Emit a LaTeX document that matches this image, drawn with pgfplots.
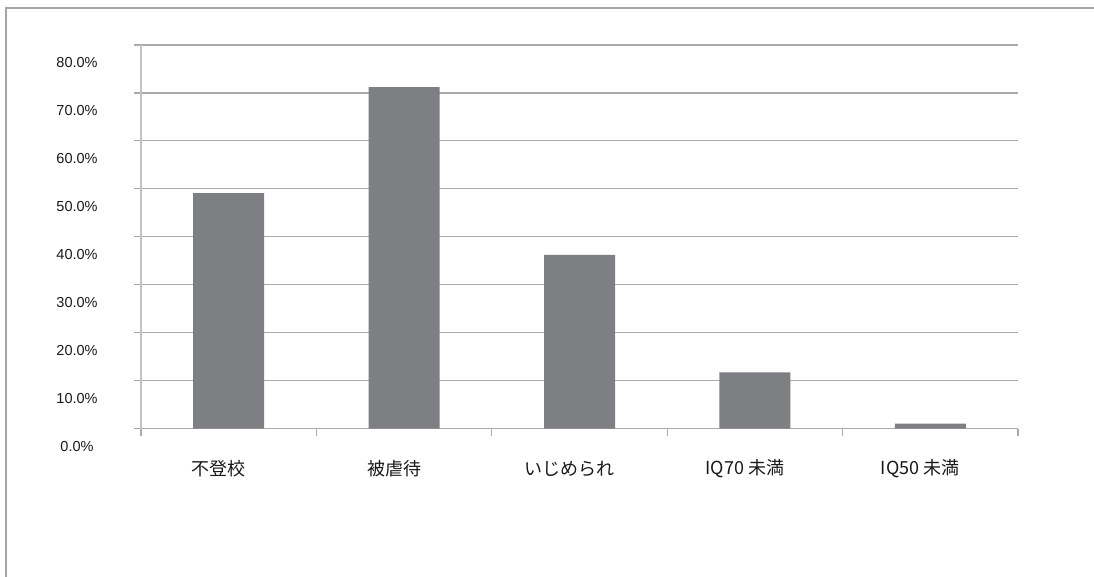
\documentclass[border=0pt]{standalone}
\usepackage{pgfplots}
\pgfplotsset{compat=1.18}
\usepackage{fontspec}
\setmainfont{Liberation Sans}
\newfontfamily\jp{Noto Sans CJK JP}
\definecolor{barc}{RGB}{126,127,131}
\definecolor{gridc}{RGB}{170,170,170}
\definecolor{framec}{RGB}{165,165,165}
\definecolor{txtc}{RGB}{25,25,25}
\begin{document}
\begin{tikzpicture}[x=1pt,y=1pt]
\useasboundingbox (0,0) rectangle (1094,576);
\draw[line width=1.5pt, framec] (6,-20) -- (6,568) -- (1110,568);
\begin{axis}[
  at={(141pt,147.5pt)}, anchor=south west,
  scale only axis, width=877pt, height=383.5pt,
  xmin=-0.5, xmax=4.5, ymin=0, ymax=80,
  axis x line*=bottom, axis y line*=left,
  axis line style={-},
  x axis line style={draw=gridc, line width=1.2pt},
  y axis line style={draw=gridc!70, line width=1.2pt},
  ymajorgrids, grid style={gridc, line width=1.2pt},
  tick align=outside, major tick length=7pt,
  tick style={draw=gridc, line width=1.2pt},
  ytick={0,10,...,80},
  yticklabel={\pgfmathprintnumber[fixed,fixed zerofill,precision=1,assume math mode=true]{\tick}\%},
  yticklabel style={anchor=center, inner sep=0pt, xshift=-57pt, yshift=-18pt, font=\fontsize{14.5}{14.5}\selectfont, text=txtc},
  xtick={-0.5,0.5,1.5,2.5,3.5,4.5},
  x tick label as interval,
  xticklabels={不登校,被虐待,いじめられ,IQ70 未満,IQ50 未満},
  xticklabel style={anchor=center, inner sep=0pt, xshift=-10pt, yshift=-33pt, font=\jp\fontsize{18}{18}\selectfont, text=txtc},
]
\addplot[ybar, bar width=71pt, fill=barc, draw=none] coordinates {(0,49.1) (1,71.2) (2,36.2) (3,11.7) (4,1.0)};
\end{axis}
\end{tikzpicture}
\end{document}
